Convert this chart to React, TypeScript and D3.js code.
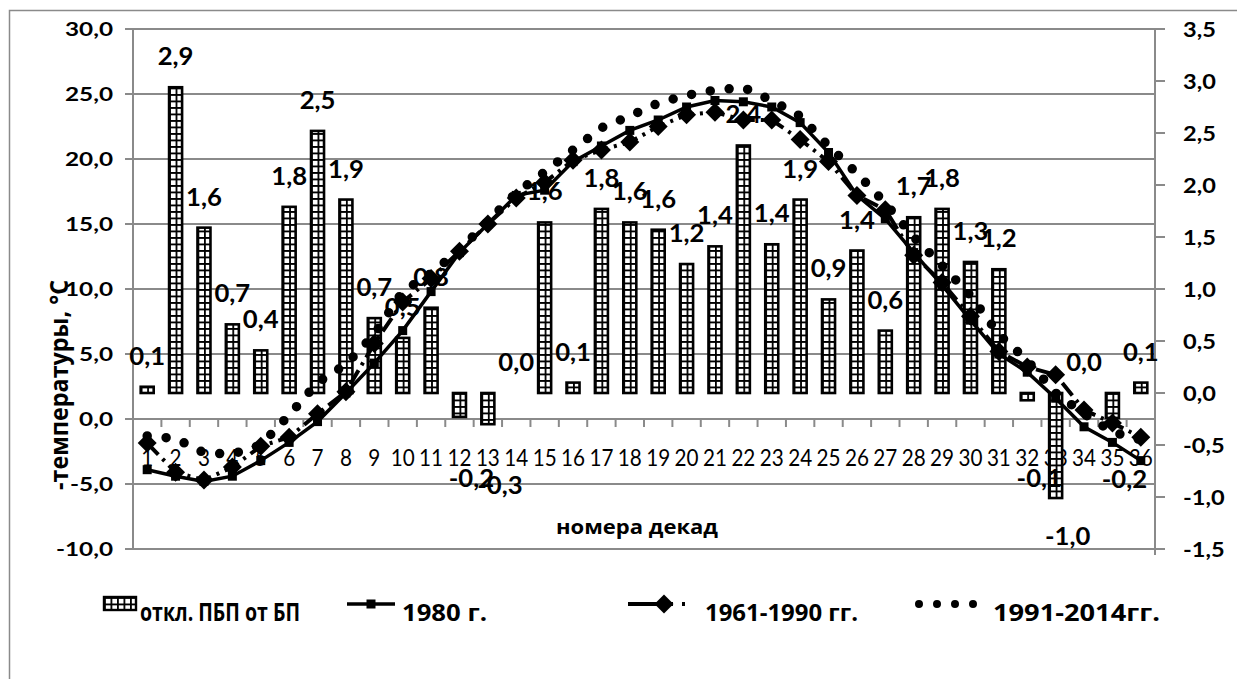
import React from 'react';
import * as d3 from 'd3';

// номера декад
const decades = d3.range(1, 37);

// откл. ПБП от БП (правая ось)
const deviation = [
  0.06, 2.94, 1.59, 0.66, 0.41, 1.79, 2.52, 1.86, 0.72, 0.53, 0.82, -0.23,
  -0.3, 0.0, 1.64, 0.1, 1.77, 1.64, 1.57, 1.24, 1.41, 2.38, 1.43, 1.86,
  0.9, 1.37, 0.6, 1.69, 1.77, 1.26, 1.19, -0.07, -1.01, 0.0, -0.24, 0.1,
];

// 1980 г.
const t1980 = [
  -3.9, -4.4, -4.8, -4.4, -3.2, -1.8, -0.2, 2.0, 4.3, 6.8, 9.8, 12.8, 15.0,
  17.2, 17.6, 19.8, 21.0, 22.2, 23.0, 24.0, 24.5, 24.4, 24.0, 22.8, 20.5,
  17.2, 15.4, 12.8, 10.3, 7.6, 5.0, 3.6, 1.6, -0.6, -1.8, -3.2,
];

// 1961-1990 гг.
const t6190 = [
  -1.85, -4.1, -4.7, -3.7, -2.1, -1.4, 0.4, 2.1, 5.8, 9.0, 10.8, 12.9, 15.0,
  17.0, 18.2, 19.9, 20.7, 21.3, 22.5, 23.4, 23.6, 23.0, 23.0, 21.5, 19.8,
  17.2, 16.1, 12.6, 10.5, 7.9, 5.2, 4.0, 3.4, 0.7, -0.3, -1.4,
];

// 1991-2014 гг.
const t9114 = [
  -1.3, -1.5, -2.6, -2.7, -2.0, 0.3, 2.8, 4.2, 6.5, 9.8, 11.2, 13.0, 15.2,
  17.4, 19.0, 20.7, 22.4, 23.3, 24.3, 24.9, 25.3, 25.5, 24.5, 23.3, 21.0,
  18.9, 16.6, 14.0, 11.8, 9.5, 6.5, 4.5, 2.0, 0.4, -1.0, -1.6,
];

const leftTicks = [-10, -5, 0, 5, 10, 15, 20, 25, 30];
const rightTicks = [-1.5, -1.0, -0.5, 0.0, 0.5, 1.0, 1.5, 2.0, 2.5, 3.0, 3.5];

const legendNames = ['откл. ПБП от БП', '1980 г.', '1961-1990 гг.', '1991-2014гг.'];
const yTitle = '-температуры, °С';
const xTitle = 'номера декад';

const W = 1237;
const H = 679;
const plot = { left: 133, right: 1155, top: 29, bottom: 549 };
const FONT = 'Lato, "Open Sans", sans-serif';
const CYR = '"Open Sans", "Noto Sans", sans-serif';
const GRID = '#8a8a8a';

const fmt = (v: number) => v.toFixed(1).replace('.', ',');

const x = d3.scaleBand<number>().domain(decades).range([plot.left, plot.right]);
const cx = (d: number) => (x(d) as number) + x.bandwidth() / 2;
const yL = d3.scaleLinear().domain([-10, 30]).range([plot.bottom, plot.top]);
const yR = d3.scaleLinear().domain([-1.5, 3.5]).range([plot.bottom, plot.top]);

const lineGen = (vals: number[]) =>
  d3
    .line<number>()
    .x((_, i) => cx(decades[i]))
    .y((v) => yL(v))(vals) as string;

// stretched text helper
const T = ({ x, y, sx = 1, size, bold = true, anchor = 'start', len, font = FONT, children }: any) => (
  <text
    transform={`translate(${x},${y}) scale(${sx},1)`}
    fontFamily={font}
    fontSize={size}
    fontWeight={bold ? 'bold' : 'normal'}
    textAnchor={anchor}
    textLength={len}
    lengthAdjust={len ? 'spacingAndGlyphs' : undefined}
    fill="#000"
  >
    {children}
  </text>
);

const Diamond = ({ x: px, y: py, r = 9.5 }: any) => (
  <path d={`M${px},${py - r}L${px + r},${py}L${px},${py + r}L${px - r},${py}Z`} fill="#000" />
);

const Grid = ({ id, x: px, y: py }: any) => (
  <pattern id={id} x={px} y={py} width={6.5} height={6.5} patternUnits="userSpaceOnUse">
    <rect width={6.5} height={6.5} fill="#fff" />
    <path d="M0,0H6.5M0,0V6.5" stroke="#000" strokeWidth={3.6} />
  </pattern>
);

export default function App() {
  const barW = 13;
  const y0 = yR(0);

  return (
    <svg width={W} height={H} style={{ position: 'absolute', left: 0, top: 0, background: '#fff' }}>
      <defs>
        {deviation.map((v, i) => (
          <Grid key={'p' + i} id={'p' + i} x={cx(decades[i]) - barW / 2} y={y0} />
        ))}
        <Grid id="pleg" x={104} y={597} />
      </defs>
      <rect x={9.5} y={10.5} width={1240} height={690} fill="#fff" stroke={GRID} strokeWidth={1.5} />

      {/* gridlines */}
      {leftTicks.map((t) => (
        <line key={t} x1={plot.left} x2={plot.right} y1={yL(t)} y2={yL(t)} stroke={GRID} strokeWidth={2} />
      ))}
      <line x1={plot.left} x2={plot.left} y1={plot.top} y2={plot.bottom} stroke={GRID} strokeWidth={2} />
      <line x1={plot.right} x2={plot.right} y1={plot.top} y2={plot.bottom + 6} stroke={GRID} strokeWidth={2} />
      {leftTicks.map((t) => (
        <line key={'lt' + t} x1={plot.left - 8} x2={plot.left} y1={yL(t)} y2={yL(t)} stroke={GRID} strokeWidth={2} />
      ))}
      {rightTicks.map((t) => (
        <line key={'rt' + t} x1={plot.right} x2={plot.right + 10} y1={yR(t)} y2={yR(t)} stroke={GRID} strokeWidth={2} />
      ))}
      {d3.range(0, 37).map((i) => (
        <line
          key={'xt' + i}
          x1={plot.left + i * x.step()}
          x2={plot.left + i * x.step()}
          y1={yL(0)}
          y2={yL(0) + 8}
          stroke={GRID}
          strokeWidth={2}
        />
      ))}

      {/* axis labels */}
      {leftTicks.map((t) => (
        <T key={'ll' + t} x={113} y={yL(t) + 7} sx={1.28} size={19} anchor="end">
          {fmt(t)}
        </T>
      ))}
      {rightTicks.map((t) => (
        <T key={'rl' + t} x={1183} y={yR(t) + 7.5} sx={1.15} size={20.5}>
          {fmt(t)}
        </T>
      ))}
      {decades.map((d) => (
        <T key={'xl' + d} x={cx(d)} y={yL(0) + 47} sx={0.88} size={23.5} bold={false} anchor="middle">
          {d}
        </T>
      ))}
      <T x={556} y={534} size={19} len={162} font={CYR}>
        {xTitle}
      </T>
      <text
        transform="translate(68,385) rotate(-90)"
        fontFamily={CYR}
        fontSize={25}
        fontWeight="bold"
        textAnchor="middle"
        textLength={210}
        lengthAdjust="spacingAndGlyphs"
      >
        {yTitle}
      </text>

      {/* bars */}
      {deviation.map((v, i) => {
        const bx = cx(decades[i]) - barW / 2;
        const top = Math.min(yR(v), y0);
        const h = Math.abs(yR(v) - y0);
        return (
          <rect key={'b' + i} x={bx} y={top} width={barW} height={h} fill={`url(#p${i})`} stroke="#000" strokeWidth={2.6} />
        );
      })}

      {/* bar labels */}
      {deviation.map((v, i) => {
        const px = cx(decades[i]);
        const neg = v < 0;
        const ly = neg ? Math.min(Math.max(yR(v) + 70, 487), 545) : yR(v) - 22;
        return (
          <T key={'bl' + i} x={px + (neg ? 12 : 0)} y={ly} sx={1.07} size={24} anchor="middle">
            {fmt(v)}
          </T>
        );
      })}

      {/* 1980 */}
      <path d={lineGen(t1980)} fill="none" stroke="#000" strokeWidth={3.5} />
      {t1980.map((v, i) => (
        <rect key={'m1' + i} x={cx(decades[i]) - 4.5} y={yL(v) - 4.5} width={9} height={9} fill="#000" />
      ))}

      {/* 1961-1990 */}
      <path d={lineGen(t6190)} fill="none" stroke="#000" strokeWidth={4} strokeDasharray="16 6 3 6" />
      {t6190.map((v, i) => (
        <Diamond key={'m2' + i} x={cx(decades[i])} y={yL(v)} />
      ))}

      {/* 1991-2014 */}
      <path
        d={lineGen(t9114)}
        fill="none"
        stroke="#000"
        strokeWidth={9.5}
        strokeLinecap="round"
        strokeDasharray="0 19"
      />

      {/* legend */}
      <rect x={104} y={597} width={32} height={13} fill="url(#pleg)" stroke="#000" strokeWidth={2.4} />
      <T x={140} y={621} size={25} len={160} font={CYR}>
        {legendNames[0]}
      </T>
      <line x1={347} x2={395} y1={604} y2={604} stroke="#000" strokeWidth={3.5} />
      <rect x={366.5} y={599.5} width={9} height={9} fill="#000" />
      <T x={402} y={621} size={23} len={85} font={CYR}>
        {legendNames[1]}
      </T>
      <line x1={628} x2={700} y1={604} y2={604} stroke="#000" strokeWidth={4} strokeDasharray="32 10 3 9 3 20" />
      <Diamond x={664} y={604} />
      <T x={705} y={621} size={23} len={153} font={CYR}>
        {legendNames[2]}
      </T>
      <line
        x1={919}
        x2={975}
        y1={604}
        y2={604}
        stroke="#000"
        strokeWidth={8}
        strokeLinecap="round"
        strokeDasharray="0 18"
      />
      <T x={993} y={621} size={23} len={167} font={CYR}>
        {legendNames[3]}
      </T>
    </svg>
  );
}
